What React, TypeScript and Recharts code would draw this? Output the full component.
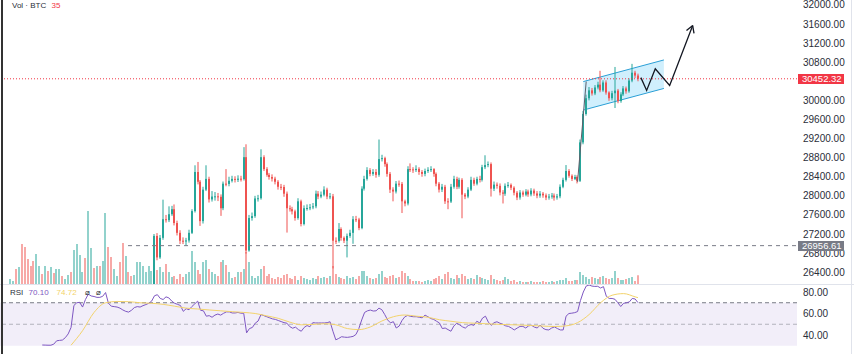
import { Area, Bar, ComposedChart, Line, ReferenceArea, ReferenceLine, XAxis, YAxis } from "recharts";

const UP = "#26a69a";
const DOWN = "#ef5350";
const VOL_UP = "rgba(38,166,154,0.5)";
const VOL_DOWN = "rgba(239,83,80,0.5)";
const FONT = '"Liberation Sans", Arial, sans-serif';

// candles that sit below the visible price range (only their volume shows)
const firstOpen = 25400;
const hiddenCloses = [
  25450, 25480, 25430, 25470, 25400, 25360, 25330, 25300, 25280, 25350,
  25380, 25360, 25420, 25400, 25460, 25440, 25500, 25560, 25540, 25580,
  25620, 25600, 25800, 25950, 26000, 26020, 25960, 26150, 26180, 26140,
  26170, 26150, 26180, 26190, 26120, 26080, 26100, 26130, 26090, 26000,
  26050, 26020, 25990, 26030, 26060, 26080, 26100, 26120, 26140, 26150,
];

const closes = [
  27160, 26710, 27120, 27510, 27490, 27615, 27720, 27430, 27225, 27060, 27050,
  27065, 27225, 27680, 28500, 28295, 27470, 28130, 28355, 27925, 27985,
  27990, 27980, 27740, 28255, 28250, 28315, 28355, 28335, 28360, 28350, 28810,
  26855,
  27535, 27575, 27945, 27950, 28810, 28560, 28440, 28395, 28360, 28295, 28190, 28185, 28045, 27740,
  27720, 27675, 27535, 27885, 27410, 27740, 27745, 27760, 27780, 28045, 27985, 28025, 28130,
  27985, 27990, 27060, 27055, 27305, 27120, 27060, 27160, 27225, 27510, 27505, 27325,
  28150, 28355, 28540, 28460, 28500, 28440, 28770, 28790, 28665, 28460, 28130, 28090, 28255, 28250, 27885, 27840,
  28560, 28555, 28540, 28565, 28500, 28460, 28520, 28545, 28560, 28460,
  28255, 28130, 28190, 27885, 27880, 28190, 28355, 28190, 28335, 28025, 27985, 28130, 28335, 28255, 28355, 28335, 28600,
  28645, 28665, 28150, 28235, 28210, 28070, 28045, 28210, 28230, 28170, 28065, 27965, 28070, 28025, 28090, 28030,
  28110, 28050, 28005, 28045, 28010, 27965, 27985, 28005, 27965, 27990,
  28190, 28335, 28520, 28420, 28355, 28395, 28315, 29120, 29715, 30045, 30210, 30145, 30270, 30330,
  30210, 30375, 30165, 30045, 30150, 30205, 29985, 30125, 30250, 30190, 30415, 30580, 30520, 30452.32,
];

const highs = [
  27200, 27220, 27180, 27920, 27600, 27780, 27790, 27820, 27480, 27280, 27130,
  27120, 27290, 27720, 28640, 28710, 28330, 28190, 28640, 28400, 28100,
  28080, 28060, 28030, 28300, 28560, 28400, 28420, 28410, 28430, 28420, 29020,
  29080,
  27600, 27650, 28000, 28020, 28975, 28850, 28600, 28480, 28450, 28400, 28330, 28250, 28230, 28090,
  27800, 27770, 27710, 27950, 27920, 27800, 27820, 27830, 27850, 28110, 28100, 28090, 28200,
  28170, 28060, 28040, 27130, 27430, 27340, 27150, 27210, 27290, 27575, 27580, 27540,
  28200, 28420, 28600, 28580, 28560, 28560, 29180, 28860, 28820, 28700, 28500, 28180, 28310, 28320, 28290, 27920,
  28620, 28680, 28600, 28640, 28600, 28540, 28570, 28600, 28620, 28580,
  28490, 28290, 28250, 28230, 27950, 28250, 28420, 28400, 28380, 28370, 28060, 28180, 28400, 28380, 28400, 28420, 28650,
  28850, 28720, 28700, 28300, 28280, 28260, 28120, 28260, 28290, 28260, 28200, 28100, 28120, 28110, 28140, 28130,
  28160, 28150, 28100, 28100, 28080, 28050, 28040, 28060, 28050, 28040,
  28240, 28380, 28645, 28560, 28450, 28440, 28430, 29180, 29780, 30120, 30280, 30260, 30320, 30390,
  30620, 30420, 30420, 30190, 30200, 30700, 30240, 30170, 30300, 30290, 30460, 30765, 30620, 30560,
];

const lows = [
  26100, 26650, 26680, 27080, 27440, 27450, 27580, 27380, 27170, 26990, 26990,
  26960, 27020, 27200, 27650, 28240, 27370, 27420, 28100, 27860, 27880,
  27900, 27890, 27580, 27700, 28200, 28200, 28280, 28280, 28290, 28300, 28320,
  26790,
  26830, 27480, 27540, 27880, 27920, 28520, 28400, 28340, 28300, 28240, 28130, 28120, 27980, 27230,
  27670, 27610, 27480, 27500, 27360, 27380, 27690, 27700, 27720, 27740, 27930, 27950, 27990,
  27930, 27930, 26480, 26990, 27020, 27060, 27010, 26710, 27120, 26995, 27450, 27280,
  27300, 28110, 28320, 28410, 28420, 28380, 28400, 28720, 28610, 28400, 28060, 27885, 28050, 28190, 27640, 27780,
  27800, 28500, 28480, 28500, 28440, 28400, 28410, 28480, 28500, 28400,
  28200, 28070, 28080, 27830, 27720, 27850, 28150, 28140, 28150, 27530, 27930, 27950, 28100, 28210, 28220, 28280, 28300,
  28560, 28600, 27985, 28100, 28150, 28010, 27840, 28000, 28170, 28120, 28010, 27910, 27920, 27980, 27990, 27980,
  27990, 28000, 27950, 27960, 27960, 27910, 27920, 27940, 27900, 27920,
  27950, 28160, 28300, 28380, 28310, 28330, 28260, 28290, 29080, 29680, 30000, 30100, 30110, 30230,
  30170, 30180, 30120, 29990, 30000, 29840, 29940, 29950, 30090, 30140, 30160, 30380, 30470, 30400,
];

// BTC per candle, hidden candles first
const volumes = [
  20, 12, 60, 68, 160, 148, 100, 72, 92, 120, 72, 40, 72, 52, 68, 44, 60, 60, 32, 20,
  36, 48, 136, 160, 116, 48, 104, 292, 144, 64, 72, 72, 92, 284, 148, 108, 60, 32, 88, 164,
  112, 48, 32, 36, 88, 88, 72, 48, 72, 52,
  72, 56, 68, 48, 80, 48, 28, 32, 20, 40, 28,
  40, 48, 132, 88, 56, 40, 88, 96, 60, 48,
  40, 32, 88, 96, 76, 48, 24, 28, 48, 48, 60,
  128,
  88, 32, 24, 32, 60, 72, 32, 40, 24, 20, 28, 24, 36, 40, 24, 20, 32, 16, 32, 24, 20, 16, 24, 20, 32, 24, 28,
  24, 32, 72, 40, 28, 24, 20, 32, 24, 28, 20, 32,
  52, 52, 32, 24, 20, 24, 40, 52, 28, 24, 32, 36, 24, 28, 52, 44,
  32, 20, 12, 12, 12, 8, 12, 16, 12, 20,
  24, 32, 20, 40, 48, 24, 20, 36, 24, 40, 32, 20, 24, 20, 36, 28, 24,
  20, 16, 36, 20, 16, 12, 16, 28, 20, 12, 16, 8, 12, 8, 8, 8, 12, 8, 8, 8, 12, 8, 8, 12, 8, 12,
  16, 16, 24, 12, 12, 16, 16, 48, 36, 28, 20, 28, 24, 20, 28, 32, 24, 20, 24, 52, 24, 16, 16, 20, 24, 28, 12, 35,
];

const rsiStart = 11;
const rsiValues = [
  30.7, 30.6, 30.5, 30.5, 31.5, 34.6, 35, 35.3, 37.5, 41,
  47, 67.5, 70, 70.4, 66, 73, 78, 76.3, 75.8, 75,
  75, 76, 79.5, 69.5, 66.8, 66.4, 66, 65, 63.3, 62,
  61.3, 63, 65.5, 66.4, 66, 67.3, 68.3, 69.5, 71.5, 76.5,
  77.5, 74, 73, 75.5, 74.5, 71.5, 69.5, 68.5, 67.5, 62,
  64.5, 63.5, 66.5, 69, 71.5, 63, 62.5, 57.5, 58, 56.5,
  58.5, 59.5, 58.5, 60.2, 61.5, 61.5, 60.5, 60.5, 61, 60.3,
  60.2, 42, 46, 47, 51, 53, 59, 58, 57, 56,
  55, 54.5, 53.5, 52.5, 51.5, 51, 47.8, 46.3, 47.3, 45,
  43.5, 47, 48.8, 47.7, 51.5, 51.2, 51.2, 51.2, 51.2, 51.5,
  52.3, 43.5, 35.5, 36.8, 38.4, 38, 37.8, 38.2, 38.7, 40.5,
  46, 54, 61, 62.5, 63.2, 62.3, 62.5, 65, 63.5, 59,
  54, 51.3, 52.4, 46.5, 48.3, 53.5, 57, 58.2, 57.3, 57,
  57, 56.5, 56, 58.5, 57, 55.3, 54.5, 52.8, 51.2, 46,
  46.5, 45, 43.5, 48.3, 51, 49.5, 47.6, 46.4, 48.8, 49.7,
  49, 52.8, 51.2, 55.8, 57.5, 52, 49, 51.5, 52.3, 51,
  50, 48.5, 48, 46.5, 44.7, 46.4, 48, 48, 46.5, 48.5,
  49, 47.3, 46.5, 49.3, 46.2, 45, 44.7, 46.5, 47.5, 46,
  44.7, 44.7, 57.5, 60, 60.3, 60.8, 61.8, 72, 80, 85.5,
  86.5, 85.5, 85.2, 85.3, 83.7, 85, 76, 74, 74, 73.2,
  70, 66.5, 69.5, 70, 70.8, 74, 73.5, 70.1,
];

// RSI-based moving average, read every few candles: [candle index, value]
const rsiMa = [
  [21, 30.5], [25, 44], [29, 61], [33, 70], [37, 71.2], [41, 71], [45, 70], [49, 69.5],
  [53, 68.5], [57, 66.8], [61, 65], [65, 64.2], [69, 63.3], [73, 62.5], [77, 61.7], [81, 61],
  [85, 60], [89, 57.8], [93, 55.5], [97, 52], [101, 49.5], [105, 49.8], [109, 50.5], [113, 49.5],
  [117, 46], [121, 45], [125, 47.5], [129, 53], [133, 57], [137, 58.6], [141, 57.5], [145, 56.5],
  [149, 54.2], [153, 52.8], [157, 51.5], [161, 51], [165, 50.5], [169, 50], [173, 49.6], [177, 49.3],
  [181, 48.8], [185, 48.3], [189, 47.9], [193, 48.5], [197, 51.5], [201, 59], [205, 70], [209, 77],
  [213, 78.5], [217, 75.5], [218, 74.72],
];

// 30400 is hidden behind the last-price tag in the reference
const priceTicks = [26400, 26800, 27200, 27600, 28000, 28400, 28800, 29200, 29600, 30000, 30800, 31200, 31600, 32000];
const rsiTicks = [40, 60, 80];
const lastPrice = 30452.32;
const supportPrice = 26956.61;
const supportStart = 40.8;

// drawings: [candle index, price]
const channelLow = [[199, 29797], [227, 30250]];
const channelHigh = [[199, 30394], [227, 30847]];
const pumpLine = [[197, 28294], [200, 30394]];
const projection = [[219, 30477], [221, 30209], [224, 30662], [229, 30312], [237, 31568]];
const arrowWings = [[234.85, 31462], [237.46, 31405]];

// layout
const FIRST_X = 10.6;
const STEP = 2.878;
const PLOT_W = 797;
const PRICE_H = 284;
const xDomain = [-FIRST_X / STEP, (PLOT_W - FIRST_X) / STEP];
const priceDomain = [26153, 32103];
const rsiDomain = [22.33, 86.51];
const priceToY = (p: number) => ((priceDomain[1] - p) / (priceDomain[1] - priceDomain[0])) * PRICE_H;

const allCloses = [...hiddenCloses, ...closes];
const futureBars = 22;

const rows: any[] = [];
for (let i = 0; i < allCloses.length + futureBars; i++) {
  const row: any = { i };
  if (i < allCloses.length) {
    const open = i === 0 ? firstOpen : allCloses[i - 1];
    const close = allCloses[i];
    const k = i - hiddenCloses.length;
    row.open = open;
    row.close = close;
    row.up = close >= open;
    row.volume = volumes[i];
    if (k >= 0) {
      row.range = [Math.min(lows[k], open, close), Math.max(highs[k], open, close)];
    }
  }
  rows.push(row);
}
channelLow.forEach(([i, p], n) => {
  rows[i].band = [p, channelHigh[n][1]];
});
pumpLine.forEach(([i, p]) => (rows[i].pump = p));
projection.forEach(([i, p]) => (rows[i].proj = p));

const rsiRows = allCloses.map((_, i) => ({
  i,
  rsi: i >= rsiStart ? rsiValues[i - rsiStart] : null,
  ma: null as number | null,
}));
rsiMa.forEach(([i, v]) => (rsiRows[i].ma = v));

function Candle(props: any) {
  const { x, y, width, height, payload } = props;
  if (!payload || !payload.range || y == null || isNaN(y)) return <g />;
  const [lo, hi] = payload.range;
  const top = Math.min(y, y + height);
  const bot = Math.max(y, y + height);
  const toY = (p: number) => (hi === lo ? top : top + ((hi - p) / (hi - lo)) * (bot - top));
  const color = payload.up ? UP : DOWN;
  const rx = Math.round(x + width / 2 - 1);
  const yo = toY(payload.open);
  const yc = toY(payload.close);
  return (
    <g>
      <line x1={rx + 1} x2={rx + 1} y1={top} y2={bot} stroke={color} strokeWidth={1} />
      <rect x={rx} y={Math.min(yo, yc)} width={2} height={Math.max(1, Math.abs(yo - yc))} fill={color} />
    </g>
  );
}

function VolumeBar(props: any) {
  const { x, y, width, height, payload } = props;
  if (!payload || payload.volume == null || y == null || isNaN(y)) return <g />;
  const rx = Math.round(x + width / 2 - 1);
  return <rect x={rx} y={y} width={2} height={Math.max(0, height)} fill={payload.up ? VOL_UP : VOL_DOWN} />;
}

function PriceTag({ price, fill }: { price: number; fill: string }) {
  return (
    <div
      style={{
        position: "absolute",
        left: PLOT_W + 1,
        top: Math.round(priceToY(price)) - 5,
        width: 46,
        height: 10,
        background: fill,
        color: "#fff",
        fontSize: 9.5,
        lineHeight: "10px",
        paddingLeft: 4,
        boxSizing: "border-box",
        whiteSpace: "nowrap",
      }}
    >
      {price.toFixed(2)}
    </div>
  );
}

const axisTick = { fontSize: 10, fill: "#2a2e39", fontFamily: FONT };

export default function App() {
  return (
    <div style={{ position: "absolute", left: 0, top: 0, width: 854, height: 354, background: "#fff", overflow: "hidden", fontFamily: FONT }}>
      <div style={{ position: "absolute", left: 0, top: 0 }}>
        <ComposedChart width={854} height={PRICE_H} data={rows} margin={{ top: 0, right: 0, bottom: 0, left: 0 }}>
          <XAxis xAxisId="main" dataKey="i" type="number" domain={xDomain} allowDataOverflow hide />
          <XAxis xAxisId="vol" dataKey="i" type="number" domain={xDomain} allowDataOverflow hide />
          <YAxis
            yAxisId="price"
            orientation="right"
            width={57}
            domain={priceDomain}
            allowDataOverflow
            ticks={priceTicks}
            interval={0}
            tickFormatter={(v: number) => v.toFixed(2)}
            axisLine={false}
            tickLine={false}
            tickSize={0}
            tickMargin={6}
            tick={axisTick}
          />
          <YAxis yAxisId="vol" domain={[0, 1136]} allowDataOverflow hide />
          <Bar xAxisId="vol" yAxisId="vol" dataKey="volume" shape={VolumeBar} isAnimationActive={false} />
          <ReferenceLine
            xAxisId="main"
            yAxisId="price"
            segment={[{ x: supportStart, y: supportPrice }, { x: xDomain[1], y: supportPrice }]}
            stroke="#787b86"
            strokeDasharray="4 4"
          />
          <ReferenceLine xAxisId="main" yAxisId="price" y={lastPrice} stroke="#f23645" strokeDasharray="1 2" />
          <Bar xAxisId="main" yAxisId="price" dataKey="range" shape={Candle} isAnimationActive={false} />
          <Area
            xAxisId="main"
            yAxisId="price"
            dataKey="band"
            type="linear"
            connectNulls
            stroke="#2a9fd6"
            strokeWidth={1}
            fill="#29b6f6"
            fillOpacity={0.22}
            dot={false}
            activeDot={false}
            isAnimationActive={false}
          />
          <Line xAxisId="main" yAxisId="price" dataKey="pump" type="linear" connectNulls stroke="#5d606b" strokeWidth={1} dot={false} isAnimationActive={false} />
          <Line xAxisId="main" yAxisId="price" dataKey="proj" type="linear" connectNulls stroke="#131722" strokeWidth={1.3} dot={false} isAnimationActive={false} />
          {arrowWings.map(([i, p]) => (
            <ReferenceLine
              key={i}
              xAxisId="main"
              yAxisId="price"
              segment={[{ x: i, y: p }, { x: projection[projection.length - 1][0], y: projection[projection.length - 1][1] }]}
              stroke="#131722"
              strokeWidth={1.3}
            />
          ))}
        </ComposedChart>
      </div>

      <div style={{ position: "absolute", left: 0, top: 285 }}>
        <ComposedChart width={854} height={69} data={rsiRows} margin={{ top: 0, right: 0, bottom: 0, left: 0 }}>
          <XAxis dataKey="i" type="number" domain={xDomain} allowDataOverflow hide />
          <YAxis
            orientation="right"
            width={57}
            domain={rsiDomain}
            allowDataOverflow
            ticks={rsiTicks}
            interval={0}
            tickFormatter={(v: number) => v.toFixed(2)}
            axisLine={false}
            tickLine={false}
            tickSize={0}
            tickMargin={6}
            tick={axisTick}
          />
          <ReferenceArea y1={30} y2={70} fill="#7e57c2" fillOpacity={0.1} stroke="none" />
          <ReferenceLine y={70} stroke="#787b86" strokeDasharray="4 3" />
          <ReferenceLine y={50} stroke="#9598a1" strokeOpacity={0.7} strokeDasharray="4 3" />
          <Line dataKey="rsi" type="linear" stroke="#7e57c2" strokeWidth={1} dot={false} isAnimationActive={false} />
          <Line dataKey="ma" type="monotone" connectNulls stroke="#f3d36b" strokeWidth={1} dot={false} isAnimationActive={false} />
        </ComposedChart>
      </div>

      <PriceTag price={lastPrice} fill="#f23645" />
      <PriceTag price={supportPrice} fill="#787b86" />

      <div style={{ position: "absolute", left: 0, top: 284, width: 854, height: 1, background: "#e0e3eb" }} />
      <div style={{ position: "absolute", left: 851, top: 0, width: 1, height: 354, background: "#e0e3eb" }} />
      <div style={{ position: "absolute", left: 1, top: 0, width: 2, height: 354, background: "#333" }} />

      <div style={{ position: "absolute", left: 12, top: 1, fontSize: 8, lineHeight: "10px", color: "#2a2e39", whiteSpace: "nowrap" }}>
        Vol · BTC <span style={{ color: "#f23645", marginLeft: 3 }}>35</span>
      </div>
      <div style={{ position: "absolute", left: 10, top: 288, fontSize: 8, lineHeight: "10px", color: "#2a2e39", whiteSpace: "nowrap" }}>
        RSI <span style={{ color: "#7e57c2", marginLeft: 3 }}>70.10</span>
        <span style={{ color: "#f3d36b", marginLeft: 8 }}>74.72</span>
        <span style={{ marginLeft: 8 }}>⌀</span>
        <span style={{ marginLeft: 6 }}>⌀</span>
      </div>
    </div>
  );
}
